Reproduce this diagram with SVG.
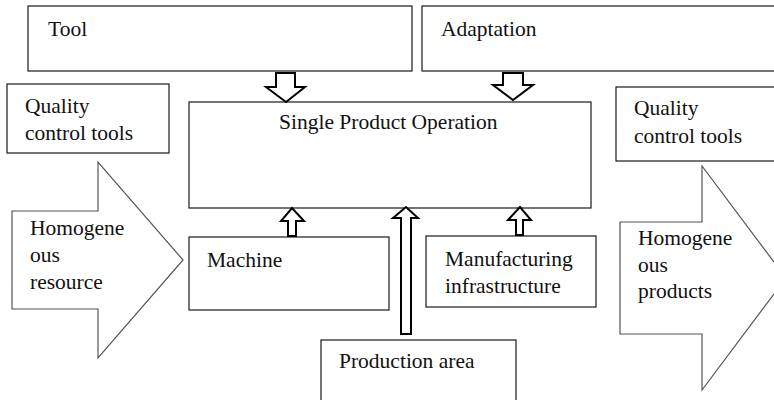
<svg xmlns="http://www.w3.org/2000/svg" width="774" height="400" viewBox="0 0 774 400">
<style>
.box{fill:#fff;stroke:#1a1a1a;stroke-width:1.2}
.big{fill:#fff;stroke:#555;stroke-width:1.2}
.arr{fill:#fff;stroke:#000;stroke-width:2;stroke-linejoin:miter}
.t{font-family:'Liberation Serif','Times New Roman',serif;font-size:21.5px;fill:#111}
</style>
<rect width="774" height="400" fill="#fff"/>
<g id="tool"><rect class="box" x="28" y="6" width="384" height="65"/><text class="t" x="48" y="36">Tool</text></g>
<g id="adaptation"><rect class="box" x="422" y="6" width="360" height="65"/><text class="t" x="441" y="36">Adaptation</text></g>
<g id="qc-left"><rect class="box" x="7" y="84" width="162" height="69"/><text class="t" x="25" y="113">Quality</text><text class="t" x="25" y="140">control tools</text></g>
<g id="qc-right"><rect class="box" x="616" y="87" width="166" height="74"/><text class="t" x="634" y="115">Quality</text><text class="t" x="634" y="143">control tools</text></g>
<g id="spo"><rect class="box" x="189" y="102" width="402" height="106"/><text class="t" x="279" y="129">Single Product Operation</text></g>
<g id="machine"><rect class="box" x="189" y="237" width="200" height="73"/><text class="t" x="207" y="267">Machine</text></g>
<g id="manufacturing"><rect class="box" x="426" y="236" width="170" height="71"/><text class="t" x="445" y="266">Manufacturing</text><text class="t" x="445" y="293">infrastructure</text></g>
<g id="production"><rect class="box" x="321" y="340" width="195" height="70"/><text class="t" x="339" y="368">Production area</text></g>
<g id="resource"><polygon class="big" points="12,211 98,211 98,162 183,260 98,358 98,309 12,309"/><text class="t" x="30" y="235">Homogene</text><text class="t" x="30" y="262">ous</text><text class="t" x="30" y="289">resource</text></g>
<g id="products"><polygon class="big" points="620,222 702,222 702,166 786,278 702,390 702,334 620,334"/><text class="t" x="638" y="245">Homogene</text><text class="t" x="638" y="272">ous</text><text class="t" x="638" y="298">products</text></g>
<g id="connectors">
<polygon class="arr" points="276,73 295,73 295,87 305,87 286,102 266,87 276,87"/>
<polygon class="arr" points="503,73 523,73 523,85 533,85 513,100 493,85 503,85"/>
<polygon class="arr" points="288,236 296,236 296,221 304,221 292,208 281,221 288,221"/>
<polygon class="arr" points="401,334 411,334 411,218 418,218 406,207 393,218 401,218"/>
<polygon class="arr" points="516,235 523,235 523,220 531,220 520,207 508,220 516,220"/>
</g>
</svg>
